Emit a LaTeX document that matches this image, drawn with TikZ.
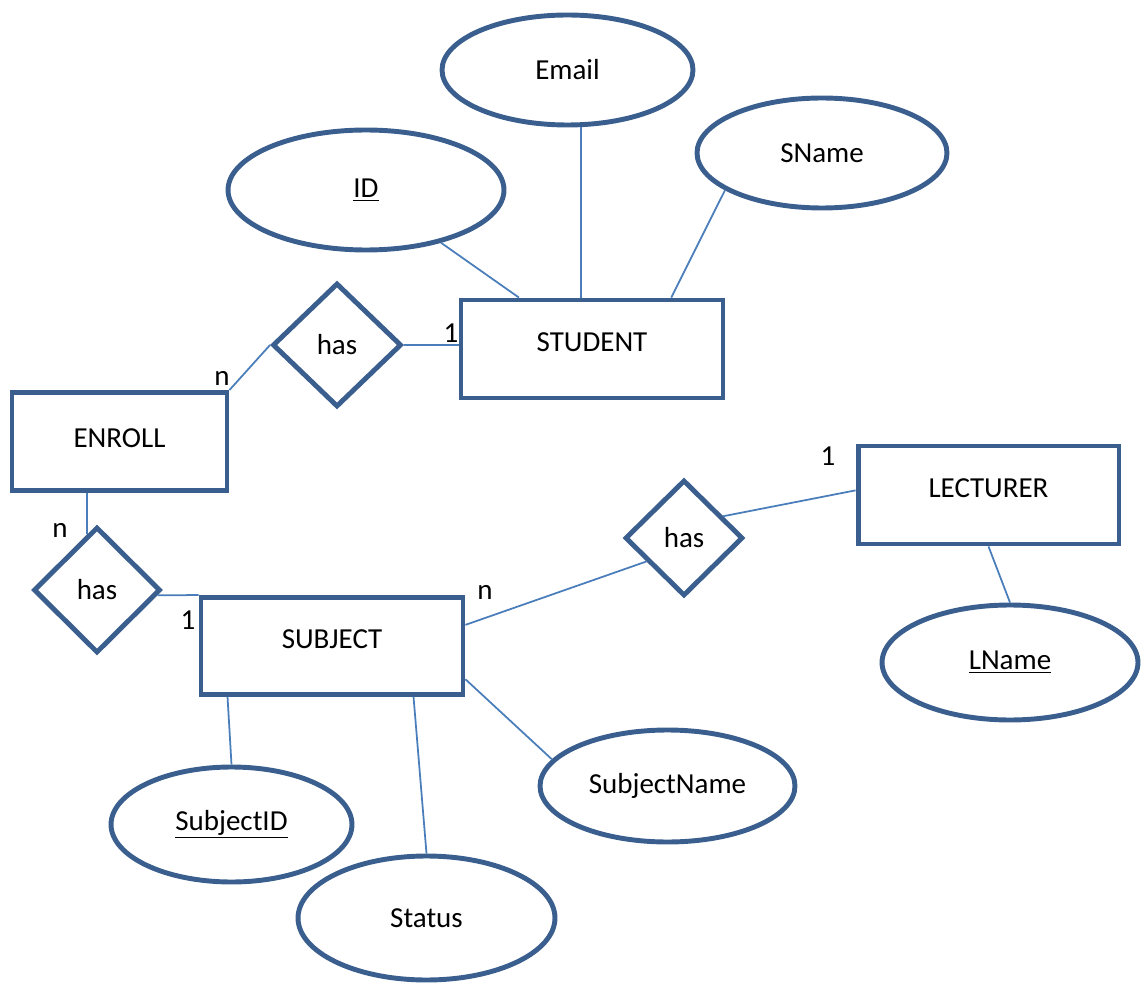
\documentclass[tikz,border=0pt]{standalone}
\usepackage{fontspec}
\setmainfont{Carlito}
\usepackage{tikz}
\usetikzlibrary{shapes.geometric}

\definecolor{edgeblue}{HTML}{3A5F8E}
\definecolor{lineblue}{HTML}{4A7EBB}

\begin{document}
\begin{tikzpicture}[
    x=0.02cm, y=-0.02cm,
    font=\fontsize{16.5}{19}\selectfont,
    entity/.style={rectangle, draw=edgeblue, line width=2.8pt, fill=white,
        minimum width=5.24cm, minimum height=1.96cm, text depth=8pt},
    attr/.style={ellipse, draw=edgeblue, line width=2.8pt, fill=white, inner sep=0pt},
    rel/.style={diamond, draw=edgeblue, line width=2.8pt, fill=white, inner sep=0pt},
    conn/.style={draw=lineblue, line width=1pt},
    card/.style={inner sep=0pt}]
    \useasboundingbox (0,0) rectangle (1145,989);

        % entities
        \node[entity] (student) at (592,349) {STUDENT};
        \node[entity, minimum width=4.3cm, text depth=4pt] (enroll) at (119.5,441.5) {ENROLL};
        \node[entity, minimum height=1.94cm] (subject) at (332,646) {SUBJECT};
        \node[entity, minimum width=5.22cm] (lecturer) at (988.5,495) {LECTURER};

        % attributes
        \node[attr, minimum width=5.52cm, minimum height=2.4cm] (a_id) at (366,190) {\underline{ID}};
        \node[attr, minimum width=5.02cm, minimum height=2.2cm] (a_email) at (567.5,70) {Email};
        \node[attr, minimum width=5.0cm, minimum height=2.2cm] (a_sname) at (822,153) {SName};
        \node[attr, minimum width=5.12cm, minimum height=2.3cm] (a_lname) at (1010,662.5) {\underline{LName}};
        \node[attr, minimum width=5.1cm, minimum height=2.24cm] (a_subjname) at (667.5,786) {SubjectName};
        \node[attr, minimum width=4.82cm, minimum height=2.3cm] (a_subjid) at (231.5,824.5) {\underline{SubjectID}};
        \node[attr, minimum width=5.14cm, minimum height=2.48cm] (a_status) at (426.5,918) {Status};

        % relationships
        \node[rel, minimum width=2.58cm, minimum height=2.48cm] (r_1) at (337,345) {has};
        \node[rel, minimum width=2.54cm, minimum height=2.52cm] (r_2) at (97,590) {has};
        \node[rel, minimum width=2.36cm, minimum height=2.32cm] (r_3) at (684,538) {has};

        % cardinalities
        \node[card] (c_1) at (451,333) {1};
        \node[card] (c_2) at (222,378) {n};
        \node[card] (c_3) at (60,530) {n};
        \node[card] (c_4) at (188,620) {1};
        \node[card] (c_5) at (485,592) {n};
        \node[card] (c_6) at (828,456) {1};

         \draw[conn] (a_id) -- (student);
         \draw[conn] (a_email.-77) -- (a_email.-77 |- student.north);
         \draw[conn] (a_sname.201) -- (student.33);

         \draw[conn] (r_1.east) -- (r_1.east -| student.west);
         \draw[conn] (r_1.west) -- (enroll.north east);

         \draw[conn] (r_2.100) -- (r_2.100 |- enroll.south);
         \draw[conn] (r_2.-5) -- (subject.north west);

         \draw[conn] (subject.9) -- (r_3.212);
         \draw[conn] (r_3.29) -- (lecturer.178);
         \draw[conn] (lecturer.south) -- (a_lname.north);

         \draw[conn] (subject.206) -- (a_subjid.north);
         \draw[conn] (subject.-32) -- (a_status.north);
         \draw[conn] (subject.-14) -- (a_subjname.167);

    \end{tikzpicture}
\end{document}
